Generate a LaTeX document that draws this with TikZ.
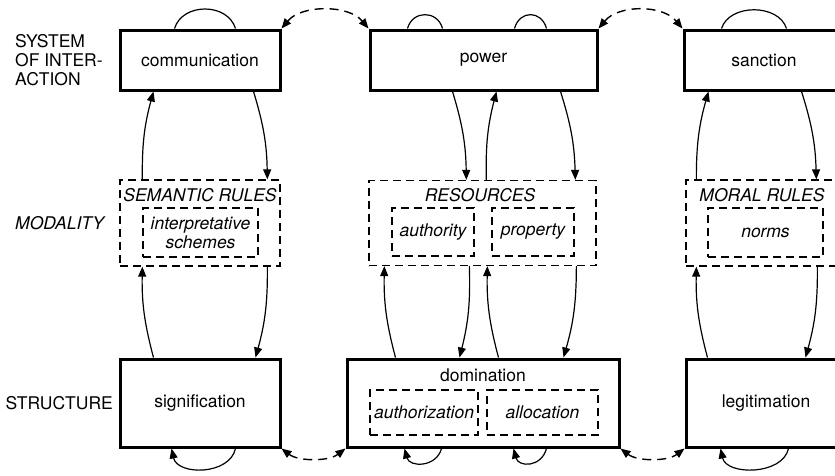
\documentclass[tikz,border=0pt]{standalone}
\usepackage{fontspec}
\setmainfont{TeX Gyre Heros}
\usetikzlibrary{arrows.meta,calc}

\tikzstyle{actbox} = [draw, line width=3pt, inner sep=0pt]
\tikzstyle{modbox} = [draw, line width=1.3pt, dash pattern=on 8pt off 5pt, inner sep=0pt]
\tikzstyle{rowlabel} = [inner sep=0pt]
\tikzstyle{flow} = [draw, line width=1.2pt, -{Triangle[length=10pt,width=8pt]}]
\tikzstyle{link} = [draw, line width=1.4pt, dash pattern=on 9pt off 6pt, {Triangle[length=10pt,width=8pt]}-{Triangle[length=10pt,width=8pt]}]
\tikzstyle{selfarc} = [draw, line width=1.2pt]

\begin{document}
\begin{tikzpicture}[x=1pt,y=-1pt,font=\fontsize{17.5}{19}\selectfont]
	\useasboundingbox (0,0) rectangle (835,475);
	% row labels
	\node (syslabel) at (15,60) [rowlabel, anchor=west, align=left] {SYSTEM\\OF INTER-\\ACTION};
	\node (modlabel) at (15,223) [rowlabel, anchor=west] {\itshape MODALITY};
	\node (strlabel) at (113,403) [rowlabel, anchor=east] {STRUCTURE};
	% system of interaction
	\node (comm) at (200,60) [actbox, minimum width=160pt, minimum height=60pt] {communication};
	\node (power) at (483.5,60) [actbox, minimum width=227pt, minimum height=60pt] {power};
	\node (sanction) at (764,60) [actbox, minimum width=160pt, minimum height=60pt] {sanction};
	% modality
	\node (semantic) at (200,223) [modbox, minimum width=160pt, minimum height=86pt] {};
	\node (semtitle) at (200,195) {\itshape SEMANTIC RULES};
	\node (interp) at (200.5,232.5) [modbox, minimum width=115pt, minimum height=49pt, align=center] {\itshape interpretative\\\itshape schemes};
	\node (resources) at (482.5,223) [modbox, minimum width=227pt, minimum height=85pt] {};
	\node (restitle) at (480,195) {\itshape RESOURCES};
	\node (authority) at (433,232) [modbox, minimum width=82pt, minimum height=48pt] {\itshape authority};
	\node (property) at (533,232) [modbox, minimum width=82pt, minimum height=48pt] {\itshape property};
	\node (moral) at (766,223) [modbox, minimum width=160pt, minimum height=86pt] {};
	\node (moraltitle) at (762,195) {\itshape MORAL RULES};
	\node (norms) at (765.5,232.5) [modbox, minimum width=115pt, minimum height=49pt] {\itshape norms};
	% structure
	\node (signif) at (200,403) [actbox, minimum width=160pt, minimum height=88pt] {signification};
	\node (domin) at (483,403) [actbox, minimum width=272pt, minimum height=88pt] {};
	\node (domtitle) at (483,375) {domination};
	\node (authz) at (424,412.5) [modbox, minimum width=108pt, minimum height=45pt] {\itshape authorization};
	\node (alloc) at (542.5,412.5) [modbox, minimum width=111pt, minimum height=45pt] {\itshape allocation};
	\node (legit) at (766,403) [actbox, minimum width=160pt, minimum height=88pt] {legitimation};
	% dashed links between columns
	\path[link] (comm.north east) .. controls +(20,-24) and +(-20,-24) .. (power.north west);
	\path[link] (power.north east) .. controls +(20,-24) and +(-20,-24) .. (sanction.north west);
	\path[link] (signif.south east) .. controls +(17,13) and +(-17,13) .. (domin.south west);
	\path[link] (domin.south east) .. controls +(17,13) and +(-17,13) .. (legit.south west);
	% arcs on top
	\path[selfarc] ($(comm.north west)+(56,0)$) .. controls +(8,-26) and +(-8,-26) .. ($(comm.north west)+(117,0)$);
	\path[selfarc] ($(power.north west)+(39,0)$) .. controls +(5,-18.5) and +(-5,-18.5) .. ($(power.north west)+(74,0)$);
	\path[selfarc] ($(power.north west)+(146,0)$) .. controls +(5,-18.5) and +(-5,-18.5) .. ($(power.north west)+(178,0)$);
	\path[selfarc] ($(sanction.north west)+(39,0)$) .. controls +(8,-25) and +(-8,-25) .. ($(sanction.north west)+(104,0)$);
	% arcs below
	\path[flow] ($(signif.south west)+(117,0)$) .. controls +(-6,27) and +(6,27) .. ($(signif.south west)+(53,0)$);
	\path[flow] ($(domin.south west)+(96,0)$) .. controls +(-5,19) and +(5,19) .. ($(domin.south west)+(59,0)$);
	\path[flow] ($(domin.south west)+(201,0)$) .. controls +(-5,19) and +(5,19) .. ($(domin.south west)+(168,0)$);
	\path[flow] ($(legit.south west)+(104,0)$) .. controls +(-6,27) and +(6,27) .. ($(legit.south west)+(36,0)$);
	% communication column
	\path[flow] ($(semantic.north west)+(23,0)$) to[bend left=8] ($(comm.south west)+(35,0)$);
	\path[flow] ($(comm.south west)+(135,0)$) to[bend left=8] ($(semantic.north west)+(148,0)$);
	\path[flow] ($(signif.north west)+(35,0)$) to[bend left=8] ($(semantic.south west)+(23,0)$);
	\path[flow] ($(semantic.south west)+(148,0)$) to[bend left=8] ($(signif.north west)+(137,0)$);
	% power column
	\path[flow] ($(power.south west)+(84,0)$) to[bend left=8] ($(resources.north west)+(98,0)$);
	\path[flow] ($(resources.north west)+(118,0)$) to[bend left=8] ($(power.south west)+(128,0)$);
	\path[flow] ($(power.south west)+(192,0)$) to[bend left=8] ($(resources.north west)+(207,0)$);
	\path[flow] ($(domin.north west)+(50,0)$) to[bend left=8] ($(resources.south west)+(16,0)$);
	\path[flow] ($(resources.south west)+(101,0)$) to[bend left=8] ($(domin.north west)+(114,0)$);
	\path[flow] ($(domin.north west)+(153,0)$) to[bend left=8] ($(resources.south west)+(119,0)$);
	\path[flow] ($(resources.south west)+(208,0)$) to[bend left=8] ($(domin.north west)+(218,0)$);
	% sanction column
	\path[flow] ($(moral.north west)+(11,0)$) to[bend left=8] ($(sanction.south west)+(26,0)$);
	\path[flow] ($(sanction.south west)+(119,0)$) to[bend left=8] ($(moral.north west)+(131,0)$);
	\path[flow] ($(legit.north west)+(23,0)$) to[bend left=8] ($(moral.south west)+(11,0)$);
	\path[flow] ($(moral.south west)+(132,0)$) to[bend left=8] ($(legit.north west)+(121,0)$);
\end{tikzpicture}
\end{document}
